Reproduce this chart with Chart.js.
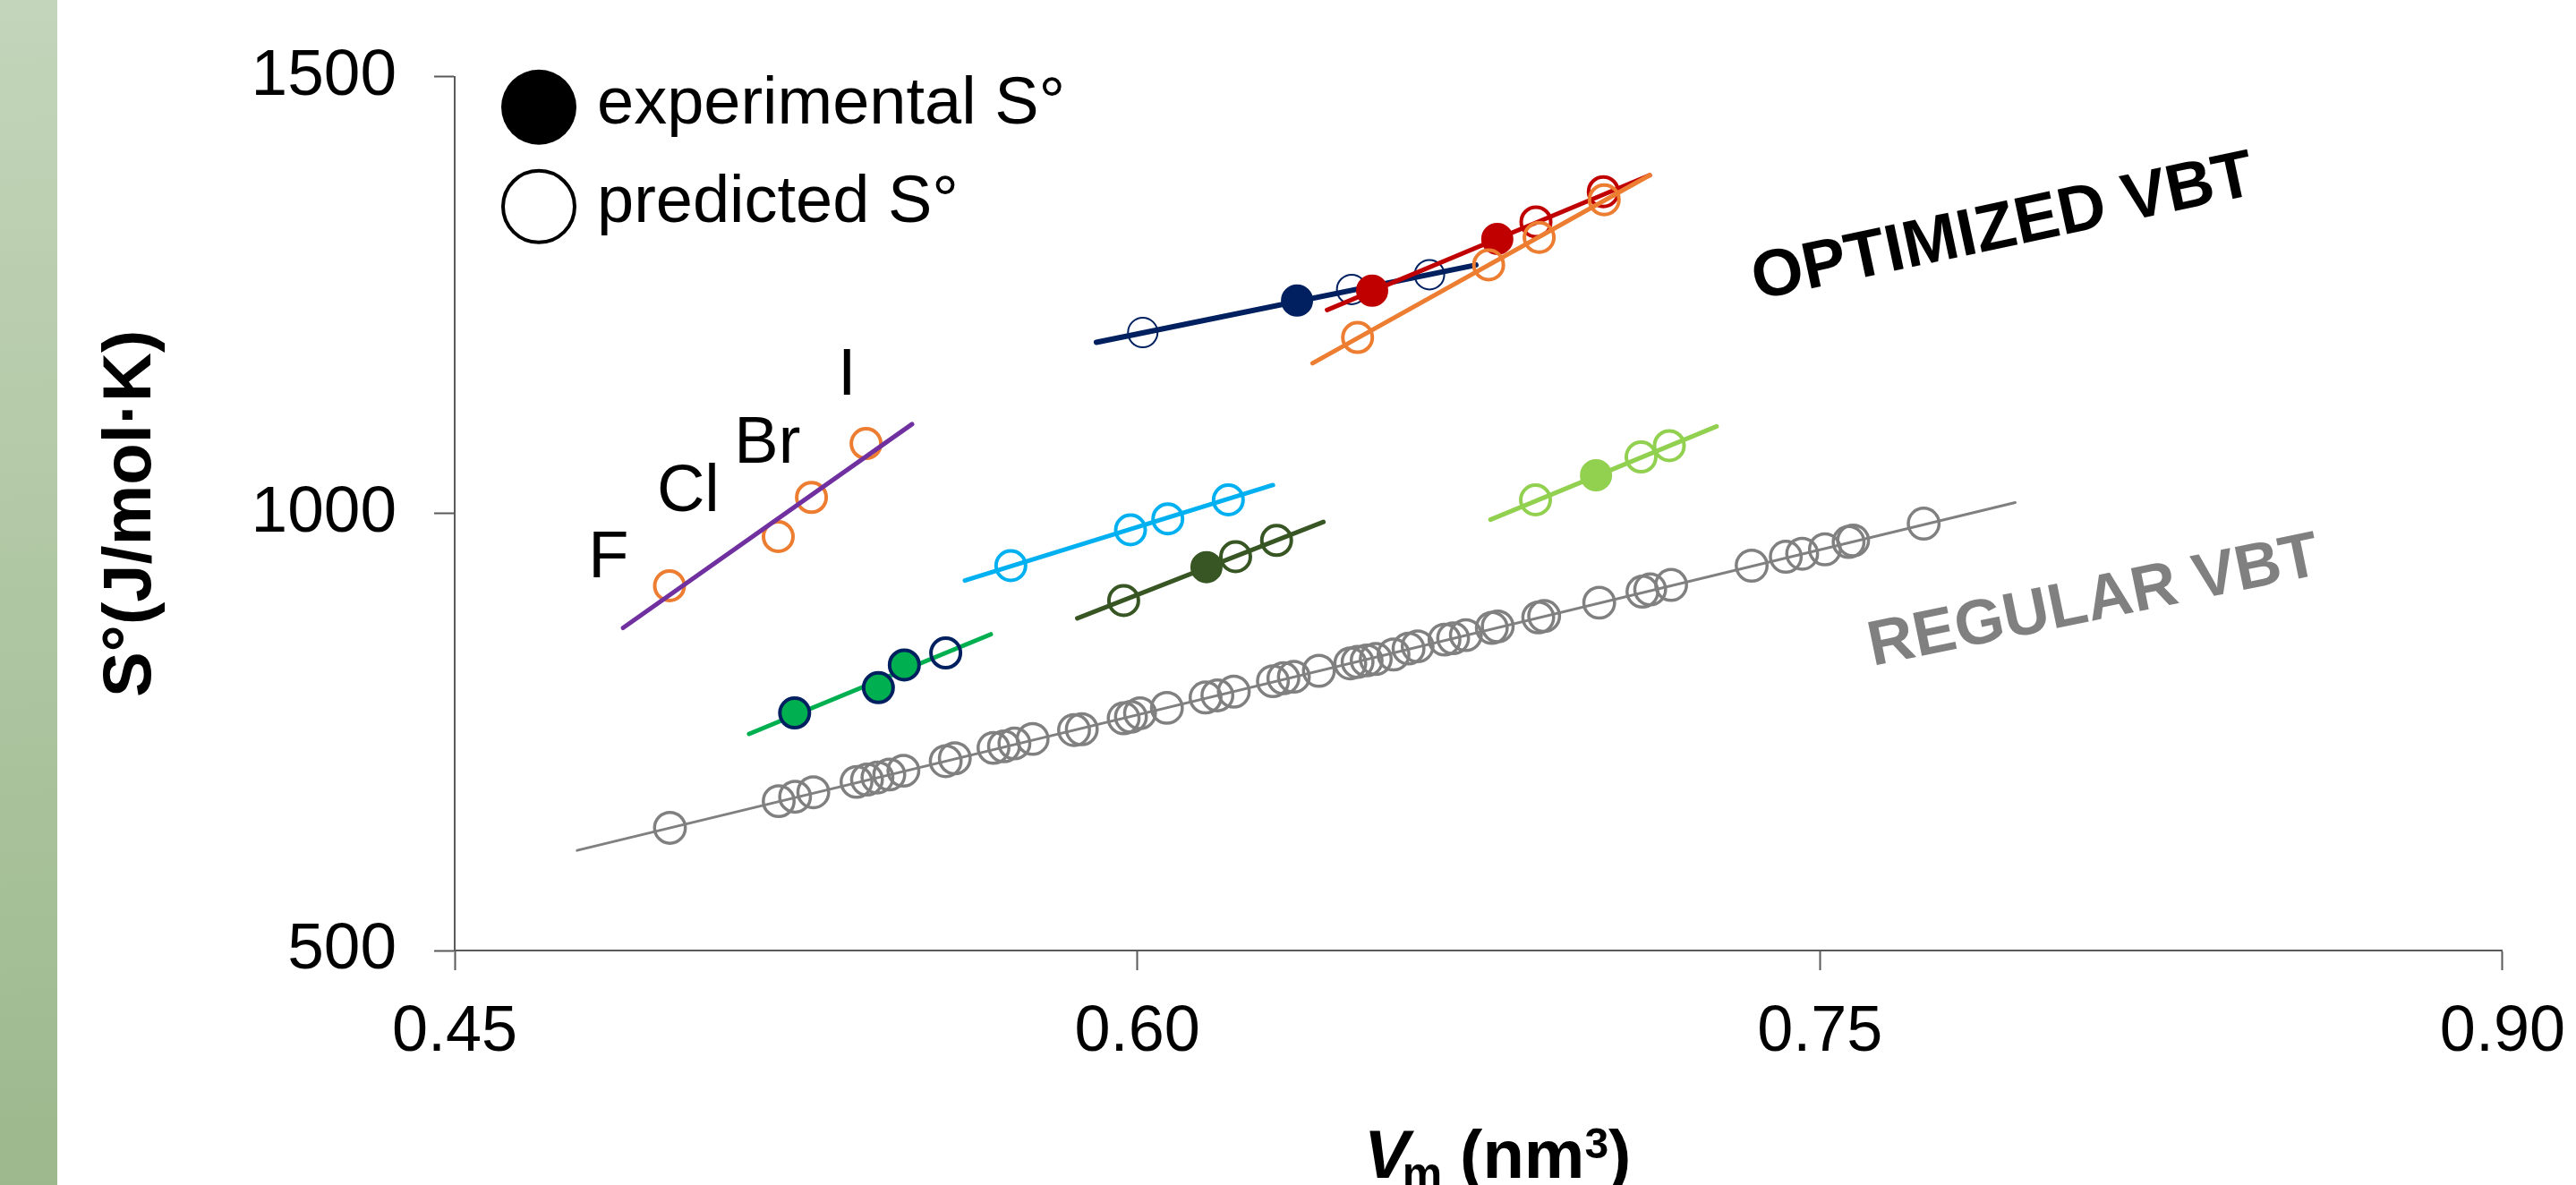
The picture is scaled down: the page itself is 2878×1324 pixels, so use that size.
<!DOCTYPE html>
<html>
<head>
<meta charset="utf-8">
<title>S° vs Vm</title>
<script src="https://cdn.jsdelivr.net/npm/chart.js@4.4.1/dist/chart.umd.min.js"></script>
<style>
  html, body { margin: 0; padding: 0; background: #fff; overflow: hidden; }
  #wrap { width: 2878px; height: 1324px; position: relative; }
</style>
</head>
<body>
<div id="wrap"><canvas id="vbtChart"></canvas></div>
<script>
// axis ticks
const xTicks = [0.45, 0.60, 0.75, 0.90];
const yTicks = [500, 1000, 1500];

// regular VBT, grey
const regularVm = [0.4973, 0.5212, 0.5248, 0.5288, 0.5383, 0.5406, 0.5429, 0.5455, 0.5486, 0.5579,
  0.5599, 0.5684, 0.5707, 0.573, 0.577, 0.5861, 0.5878, 0.597, 0.5986, 0.6006, 0.6065, 0.615,
  0.6176, 0.6212, 0.6298, 0.6321, 0.6344, 0.6399, 0.6468, 0.6484, 0.6504, 0.6524, 0.6563, 0.6596,
  0.6616, 0.6675, 0.6694, 0.6722, 0.6779, 0.6792, 0.6881, 0.6894, 0.7015, 0.711, 0.7127, 0.7173,
  0.735, 0.7425, 0.7461, 0.7511, 0.7563, 0.7573, 0.7728];
const regularS = [640.4, 670.9, 676, 681.1, 693, 695.6, 698, 701.4, 705.8, 716.7,
  720, 731.9, 733.7, 737, 742.1, 752.3, 753.3, 765.8, 767.5, 771.6, 777.7, 789.6,
  792, 796.3, 808.2, 811.6, 813.3, 820.1, 828.6, 830.3, 832, 833.7, 838.8, 845.6,
  848.2, 855.8, 857.4, 861, 869.3, 871, 881.2, 882.8, 898.1, 910.7, 913.3, 918.4,
  940.5, 950.7, 954.1, 959.2, 967.6, 969.3, 988.6];
const regularLineVm = [0.4769, 0.7929];
const regularLineS = [614.6, 1012.7];

// halide series F, Cl, Br, I
const halideTags = ['F', 'Cl', 'Br', 'I'];
const halideVm = [0.4972, 0.5211, 0.5284, 0.5404];
const halideS = [917.4, 973.8, 1018.5, 1080.2];
const halideLineVm = [0.487, 0.5505];
const halideLineS = [869.3, 1102.5];
const tagVm = [0.4838, 0.5013, 0.5187, 0.5362];
const tagS = [954, 1030, 1085, 1163];

// green series
const greenExpVm = [0.5247, 0.5431, 0.5488];
const greenExpS = [771.9, 800.8, 826.9];
const greenPredVm = [0.5579];
const greenPredS = [840.5];
const greenLineVm = [0.5147, 0.5678];
const greenLineS = [747.9, 861.9];

// cyan series
const cyanPredVm = [0.5722, 0.5985, 0.6067, 0.62];
const cyanPredS = [940.5, 981.5, 994, 1015.8];
const cyanLineVm = [0.5621, 0.6298];
const cyanLineS = [923.5, 1032.7];

// dark green series
const oliveExpVm = [0.6152];
const oliveExpS = [938.8];
const olivePredVm = [0.597, 0.6216, 0.6306];
const olivePredS = [900.5, 950.7, 969.3];
const oliveLineVm = [0.5868, 0.6409];
const oliveLineS = [880.2, 990.6];

// light green series
const limeExpVm = [0.7008];
const limeExpS = [1044];
const limePredVm = [0.6875, 0.7107, 0.7169];
const limePredS = [1015.8, 1064.9, 1077.8];
const limeLineVm = [0.6776, 0.7273];
const limeLineS = [993.1, 1099.9];

// navy series
const navyExpVm = [0.6351];
const navyExpS = [1244];
const navyPredVm = [0.6012, 0.6471, 0.6642];
const navyPredS = [1207.3, 1256.6, 1273.5];
const navyLineVm = [0.591, 0.6744];
const navyLineS = [1196.1, 1284.6];

// red series
const redExpVm = [0.6516, 0.6791];
const redExpS = [1255.2, 1314.5];
const redPredVm = [0.6876, 0.7024];
const redPredS = [1333.9, 1368.5];
const redLineVm = [0.6417, 0.7126];
const redLineS = [1233.1, 1387.4];

// orange series
const orangePredVm = [0.6484, 0.6772, 0.6883, 0.7026];
const orangePredS = [1201.6, 1284.7, 1316.2, 1359.3];
const orangeLineVm = [0.6385, 0.7126];
const orangeLineS = [1172.1, 1387.4];

const FONT = '"Liberation Sans", Arial, sans-serif';
const GREY = '#808080';

function pts(xs, ys) {
  return xs.map((x, i) => ({x: x, y: ys[i]}));
}
function openPts(label, xs, ys, color, bw, r) {
  return {label: label, data: pts(xs, ys), showLine: false,
    pointRadius: r || 16.5, pointBorderWidth: bw || 4,
    pointBorderColor: color, pointBackgroundColor: 'rgba(0,0,0,0)'};
}
function fillPts(label, xs, ys, color, edge) {
  return {label: label, data: pts(xs, ys), showLine: false,
    pointRadius: edge ? 16.5 : 17, pointBorderWidth: edge ? 4 : 2,
    pointBorderColor: edge || color, pointBackgroundColor: color};
}
function fitLine(label, xs, ys, color, w) {
  return {label: label, data: pts(xs, ys), showLine: true, borderColor: color,
    borderWidth: w || 5, borderCapStyle: 'round', pointRadius: 0, fill: false};
}

// listed bottom to top
const layers = [
  fitLine('regular fit', regularLineVm, regularLineS, GREY, 3),
  openPts('regular VBT', regularVm, regularS, GREY, 3.5, 17.2),
  openPts('halides', halideVm, halideS, '#ED7D31'),
  fitLine('halide fit', halideLineVm, halideLineS, '#7030A0'),
  fitLine('green fit', greenLineVm, greenLineS, '#00B050'),
  fillPts('green exp', greenExpVm, greenExpS, '#00B050', '#002060'),
  openPts('green pred', greenPredVm, greenPredS, '#002060'),
  openPts('cyan pred', cyanPredVm, cyanPredS, '#00B0F0'),
  fitLine('cyan fit', cyanLineVm, cyanLineS, '#00B0F0'),
  openPts('olive pred', olivePredVm, olivePredS, '#375623'),
  fitLine('olive fit', oliveLineVm, oliveLineS, '#375623'),
  fillPts('olive exp', oliveExpVm, oliveExpS, '#375623'),
  openPts('lime pred', limePredVm, limePredS, '#92D050'),
  fitLine('lime fit', limeLineVm, limeLineS, '#92D050'),
  fillPts('lime exp', limeExpVm, limeExpS, '#92D050'),
  openPts('navy pred', navyPredVm, navyPredS, '#002060', 2),
  fitLine('navy fit', navyLineVm, navyLineS, '#002060', 6),
  fillPts('navy exp', navyExpVm, navyExpS, '#002060'),
  fitLine('red fit', redLineVm, redLineS, '#C00000'),
  fillPts('red exp', redExpVm, redExpS, '#C00000'),
  openPts('red pred', redPredVm, redPredS, '#C00000'),
  openPts('orange pred', orangePredVm, orangePredS, '#ED7D31'),
  fitLine('orange fit', orangeLineVm, orangeLineS, '#ED7D31')
];
layers.forEach((d, i) => { d.order = layers.length - i; });

const decor = {
  id: 'decor',
  beforeDraw(chart) {
    const ctx = chart.ctx;
    ctx.save();
    ctx.fillStyle = '#ffffff';
    ctx.fillRect(0, 0, chart.width, chart.height);
    const g = ctx.createLinearGradient(0, 0, 40, chart.height);
    g.addColorStop(0, '#C3D5BA');
    g.addColorStop(1, '#9CB88C');
    ctx.fillStyle = g;
    ctx.fillRect(0, 0, 64, chart.height);
    ctx.restore();
  },
  afterDraw(chart) {
    const ctx = chart.ctx;
    const xs = chart.scales.x, ys = chart.scales.y;
    const area = chart.chartArea;
    ctx.save();
    ctx.fillStyle = '#000';

    // halide tags
    ctx.font = '74px ' + FONT;
    ctx.textAlign = 'center';
    ctx.textBaseline = 'alphabetic';
    halideTags.forEach((t, i) => {
      ctx.fillText(t, xs.getPixelForValue(tagVm[i]), ys.getPixelForValue(tagS[i]) + 26);
    });

    // rotated labels
    function tilted(text, vm, s, deg, size, color) {
      ctx.save();
      ctx.translate(xs.getPixelForValue(vm), ys.getPixelForValue(s));
      ctx.rotate(deg * Math.PI / 180);
      ctx.font = 'bold ' + size + 'px ' + FONT;
      ctx.fillStyle = color;
      ctx.textAlign = 'center';
      ctx.fillText(text, 0, size * 0.358);
      ctx.restore();
    }
    tilted('OPTIMIZED VBT', 0.79, 1332, -12, 74, '#000');
    tilted('REGULAR VBT', 0.81, 904, -11.6, 71, GREY);

    // legend
    const lx = area.left + 94;
    ctx.beginPath();
    ctx.arc(lx, area.top + 34, 42, 0, Math.PI * 2);
    ctx.fillStyle = '#000';
    ctx.fill();
    ctx.beginPath();
    ctx.arc(lx, area.top + 145, 40, 0, Math.PI * 2);
    ctx.lineWidth = 4;
    ctx.strokeStyle = '#000';
    ctx.stroke();
    ctx.font = '74px ' + FONT;
    ctx.textAlign = 'left';
    ctx.fillText('experimental S°', area.left + 159, area.top + 52);
    ctx.fillText('predicted S°', area.left + 159, area.top + 162);

    // x axis title: V(m) (nm3)
    const base = 1316;
    let x = (area.left + area.right) / 2 - 128;
    ctx.font = 'italic bold 76px ' + FONT;
    ctx.fillText('V', x, base);
    x += ctx.measureText('V').width - 8;
    ctx.font = 'bold 50px ' + FONT;
    ctx.fillText('m', x, base + 12);
    x += ctx.measureText('m').width + 20;
    ctx.font = 'bold 76px ' + FONT;
    ctx.fillText('(nm', x, base);
    x += ctx.measureText('(nm').width;
    ctx.font = 'bold 48px ' + FONT;
    ctx.fillText('3', x, base - 22);
    x += ctx.measureText('3').width;
    ctx.font = 'bold 76px ' + FONT;
    ctx.fillText(')', x, base);
    ctx.restore();
  }
};

const ctxEl = document.getElementById('vbtChart');
const chart = new Chart(ctxEl, {
  type: 'scatter',
  data: { datasets: layers },
  options: {
    responsive: true,
    maintainAspectRatio: false,
    devicePixelRatio: 1,
    animation: false,
    events: [],
    layout: { padding: { top: 80, right: 70, left: 0, bottom: 0 } },
    plugins: {
      legend: { display: false },
      tooltip: { enabled: false }
    },
    scales: {
      x: {
        type: 'linear',
        min: 0.45,
        max: 0.90,
        afterBuildTicks: s => { s.ticks = xTicks.map(v => ({value: v})); },
        afterFit: s => { s.height = 262; },
        ticks: {
          color: '#000',
          padding: 12,
          font: { family: FONT, size: 72, lineHeight: 1.62 },
          callback: v => Number(v).toFixed(2)
        },
        grid: { display: true, drawOnChartArea: false, drawTicks: true, tickLength: 22, tickColor: '#595959', tickWidth: 2 },
        border: { display: true, color: '#595959', width: 2 }
      },
      y: {
        type: 'linear',
        min: 500,
        max: 1500,
        afterBuildTicks: s => { s.ticks = yTicks.map(v => ({value: v})); },
        afterFit: s => { s.width = 508; },
        ticks: {
          color: '#000',
          padding: 42,
          font: { family: FONT, size: 73 },
          callback: v => String(v)
        },
        title: {
          display: true,
          text: 'S°(J/mol·K)',
          color: '#000',
          font: { family: FONT, size: 76, weight: 'bold' },
          padding: { top: 101, bottom: 0 }
        },
        grid: { display: true, drawOnChartArea: false, drawTicks: true, tickLength: 23, tickColor: '#595959', tickWidth: 2 },
        border: { display: true, color: '#595959', width: 2 }
      }
    }
  },
  plugins: [decor]
});
</script>
</body>
</html>
